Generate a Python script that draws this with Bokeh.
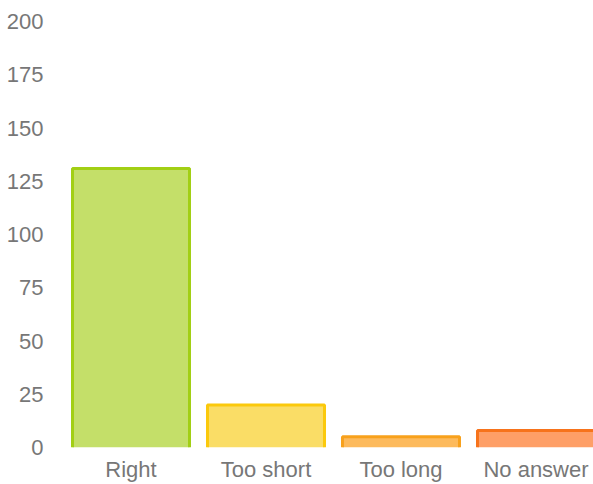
from bokeh.plotting import figure
from bokeh.models import Range1d, FixedTicker, ColumnDataSource
from bokeh.embed import file_html
from bokeh.resources import INLINE

categories = ["Right", "Too short", "Too long", "No answer"]
counts = [131, 20, 5, 8]
fill_colors = ["#c4df69", "#fadd66", "#fdba5c", "#fe9f67"]
line_colors = ["#a2cf14", "#fbc90c", "#f8a11c", "#f7731b"]
y_ticks = [0, 25, 50, 75, 100, 125, 150, 175, 200]

xs = [i + 0.5 for i in range(len(categories))]
bar_w = 0.867
src = ColumnDataSource(dict(x=xs, top=counts, fill=fill_colors, line=line_colors))

p = figure(width=593, height=484, output_backend="svg", toolbar_location=None,
           x_range=Range1d(0, 3.926), y_range=Range1d(0, 200),
           min_border_left=63, min_border_right=0, min_border_top=21, min_border_bottom=36)
p.outline_line_color = None
p.grid.visible = False

p.vbar(x="x", top="top", bottom=0, width=bar_w, fill_color="fill", line_color=None, source=src)

# three-sided border (left, top, right), no bottom
seg_x, seg_y = [], []
for x, t in zip(xs, counts):
    l, r = x - bar_w / 2, x + bar_w / 2
    seg_x.append([l, l, r, r])
    seg_y.append([0, t, t, 0])
p.multi_line(xs=seg_x, ys=seg_y, line_color=line_colors, line_width=3)

p.yaxis.ticker = FixedTicker(ticks=y_ticks)
p.xaxis.ticker = FixedTicker(ticks=xs)
p.xaxis.major_label_overrides = {x: c for x, c in zip(xs, categories)}
for ax in (p.xaxis, p.yaxis):
    ax.axis_line_color = None
    ax.major_tick_line_color = None
    ax.minor_tick_line_color = None
    ax.major_tick_out = 0
    ax.major_label_text_color = "#777777"
    ax.major_label_text_font = "Liberation Sans"
    ax.major_label_text_font_size = "22px"
p.yaxis.major_label_standoff = 20
p.xaxis.major_label_standoff = 9

open("out.html", "w").write(file_html(p, INLINE))
